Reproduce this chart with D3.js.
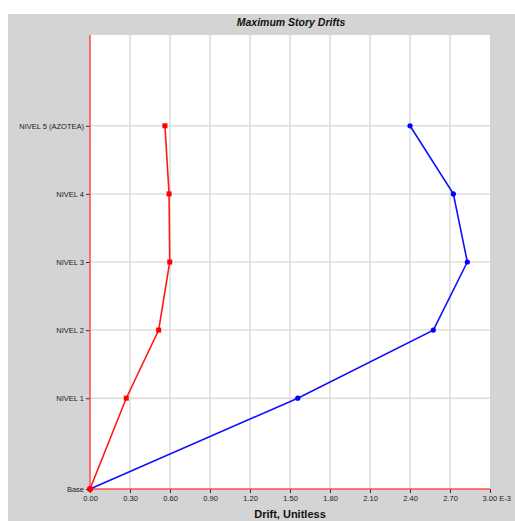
<!DOCTYPE html>
<html>
<head>
<meta charset="utf-8">
<script src="https://cdn.jsdelivr.net/npm/d3@7/dist/d3.min.js"></script>
<style>
  html, body { margin: 0; padding: 0; background: #fff; }
  svg { display: block; }
  text { font-family: Arial, "Liberation Sans", sans-serif; }
</style>
</head>
<body>
<svg id="chart" width="515" height="521"></svg>
<script>
// Story levels and their elevations
const stories = ["Base", "NIVEL 1", "NIVEL 2", "NIVEL 3", "NIVEL 4", "NIVEL 5 (AZOTEA)"];
const elevations = [0, 4, 7, 10, 13, 16];

// Drift values (x 1E-3) per story
const driftRed = [0, 0.272, 0.515, 0.598, 0.593, 0.562];
const driftBlue = [0, 1.558, 2.575, 2.83, 2.725, 2.40];

// X axis tick values
const xTicks = [0, 0.3, 0.6, 0.9, 1.2, 1.5, 1.8, 2.1, 2.4, 2.7, 3.0];

const svg = d3.select("#chart");

// Grey panel
svg.append("rect").attr("x", 8).attr("y", 14).attr("width", 507).attr("height", 507).attr("fill", "#d4d4d4");

const plotL = 90, plotR = 490, plotT = 35, plotB = 489;

const x = d3.scaleLinear().domain([0, 3]).range([plotL, plotR]);
const y = d3.scaleLinear().domain([0, 20]).range([plotB, plotT]);

// Plot area
svg.append("rect").attr("x", plotL).attr("y", plotT).attr("width", plotR - plotL).attr("height", plotB - plotT).attr("fill", "#fff");

// Grid
svg.append("g").selectAll("line").data(xTicks.slice(1, -1)).join("line")
  .attr("x1", d => x(d)).attr("x2", d => x(d)).attr("y1", plotT).attr("y2", plotB)
  .attr("stroke", "#dcdcdc").attr("stroke-width", 1.5);
svg.append("g").selectAll("line").data(elevations.slice(1)).join("line")
  .attr("x1", plotL).attr("x2", plotR).attr("y1", d => y(d)).attr("y2", d => y(d))
  .attr("stroke", "#dcdcdc").attr("stroke-width", 1.5);

// Axes
const xAxis = d3.axisBottom(x).tickValues(xTicks).tickSize(4).tickPadding(3)
  .tickFormat(d => d3.format(".2f")(d));
const gx = svg.append("g").attr("transform", `translate(0,${plotB})`).call(xAxis);
gx.select(".domain").remove();
gx.selectAll(".tick line").attr("stroke", "#333");
gx.selectAll(".tick text").attr("font-size", 7.5).attr("fill", "#1a1a1a")
  .attr("font-family", "Arial, 'Liberation Sans', sans-serif");
// Unit exponent on the last tick
gx.selectAll(".tick text").filter(d => d === 3).text("3.00 E-3").attr("text-anchor", "start").attr("dx", -8);

const yAxis = d3.axisLeft(y).tickValues(elevations).tickSize(4).tickPadding(2)
  .tickFormat((d, i) => stories[i]);
const gy = svg.append("g").attr("transform", `translate(${plotL},0)`).call(yAxis);
gy.select(".domain").remove();
gy.selectAll(".tick line").attr("stroke", "#333");
gy.selectAll(".tick text").attr("font-size", 7.5).attr("fill", "#1a1a1a")
  .attr("font-family", "Arial, 'Liberation Sans', sans-serif");

// Red axis lines
svg.append("line").attr("x1", plotL).attr("x2", plotL).attr("y1", plotT).attr("y2", plotB)
  .attr("stroke", "#ff4a4a").attr("stroke-width", 1.5);
svg.append("line").attr("x1", plotL).attr("x2", plotR).attr("y1", plotB).attr("y2", plotB)
  .attr("stroke", "#ff4a4a").attr("stroke-width", 1.5);

const line = d3.line().x(d => x(d[0])).y(d => y(d[1]));

// Blue series
const blue = driftBlue.map((v, i) => [v, elevations[i]]);
svg.append("path").datum(blue).attr("d", line).attr("fill", "none")
  .attr("stroke", "#1010ff").attr("stroke-width", 1.6);
svg.append("g").selectAll("circle").data(blue).join("circle")
  .attr("cx", d => x(d[0])).attr("cy", d => y(d[1])).attr("r", 2.6).attr("fill", "#0000ff");

// Red series
const red = driftRed.map((v, i) => [v, elevations[i]]);
svg.append("path").datum(red).attr("d", line).attr("fill", "none")
  .attr("stroke", "#ff1a1a").attr("stroke-width", 1.6);
svg.append("g").selectAll("rect").data(red.slice(1)).join("rect")
  .attr("x", d => x(d[0]) - 2.5).attr("y", d => y(d[1]) - 2.5).attr("width", 5).attr("height", 5)
  .attr("fill", "#ff0000");
svg.append("circle").attr("cx", x(red[0][0])).attr("cy", y(red[0][1])).attr("r", 3).attr("fill", "#ff0000");

// Titles
svg.append("text").attr("x", 291).attr("y", 26).attr("text-anchor", "middle")
  .attr("font-size", 10.5).attr("font-weight", "bold").attr("font-style", "italic").attr("fill", "#111")
  .text("Maximum Story Drifts");
svg.append("text").attr("x", 290).attr("y", 518).attr("text-anchor", "middle")
  .attr("font-size", 11).attr("font-weight", "bold").attr("fill", "#111")
  .text("Drift, Unitless");
</script>
</body>
</html>
